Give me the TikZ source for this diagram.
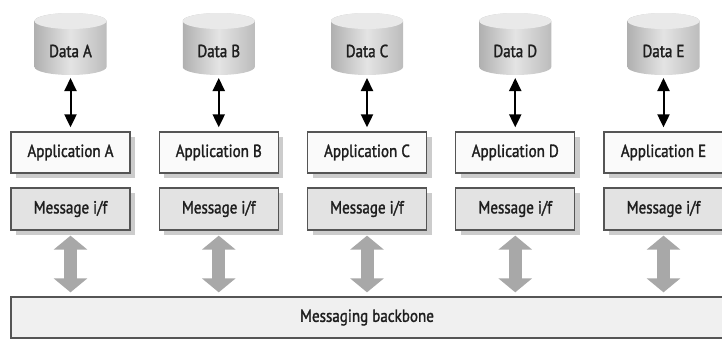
\documentclass[tikz,border=0pt]{standalone}
\usepackage{fontspec}
\setmainfont[FakeStretch=0.86,FakeBold=1.6]{PT Sans}
\usetikzlibrary{arrows.meta,shadows}
\definecolor{cylside}{HTML}{B0B0B0}
\definecolor{cylmid}{HTML}{E4E4E4}
\definecolor{cyltop}{HTML}{E9E9E9}
\definecolor{boxline}{HTML}{555555}
\definecolor{appfill}{HTML}{FAFAFA}
\definecolor{msgfill}{HTML}{E3E3E3}
\definecolor{bbfill}{HTML}{F0F0F0}
\definecolor{garrow}{HTML}{A8A8A8}
\definecolor{txt}{HTML}{1E1E1E}
\tikzset{
  lbl/.style={font=\fontsize{17.5}{19}\selectfont, text=txt},
  datanode/.style={lbl, minimum width=72pt, minimum height=46pt, inner sep=0pt},
  boxbase/.style={lbl, draw=boxline, line width=1.3pt, minimum width=119pt, inner sep=0pt,
     drop shadow={shadow xshift=5pt, shadow yshift=-5pt, fill=black, opacity=0.2}},
  appbox/.style={boxbase, fill=appfill, minimum height=41pt},
  msgbox/.style={boxbase, fill=msgfill, minimum height=42pt},
  backbone/.style={lbl, draw=boxline, line width=1.3pt, fill=bbfill, minimum width=712pt, minimum height=41pt, inner sep=0pt},
  blackarrow/.style={line width=2pt, black, {Triangle[width=12pt,length=13pt]}-{Triangle[width=12pt,length=13pt]}, shorten <=3pt, shorten >=4pt},
  grayarrow/.style={line width=13pt, garrow, {Triangle[width=33pt,length=14pt]}-{Triangle[width=33pt,length=14pt]}, shorten <=5pt, shorten >=4pt}
}
\begin{document}
\begin{tikzpicture}[x=1pt,y=1pt]
\useasboundingbox (0,0) rectangle (722,-340);
\foreach \i/\l in {0/A,1/B,2/C,3/D,4/E} {
  \pgfmathsetmacro\cx{70.5+148.25*\i}
  \shade[left color=cylside, right color=cylside!85!white, middle color=cylmid]
    (\cx-36,-21) -- (\cx-36,-67)
    arc[start angle=180, end angle=360, x radius=36, y radius=8]
    -- (\cx+36,-21)
    arc[start angle=0, end angle=180, x radius=36, y radius=8] -- cycle;
  \fill[cyltop] (\cx,-21) ellipse[x radius=36, y radius=8];
  \node[datanode] (d\l) at (\cx,-51) {Data \l};
  \node[appbox] (a\l) at (\cx,-152.5) {Application \l};
  \node[msgbox] (m\l) at (\cx,-209) {Message i/f};
  \draw[blackarrow] (d\l.south |- 0,-75) -- (a\l);
}
\node[backbone] (bb) at (367,-317.5) {Messaging backbone};
\foreach \l in {A,B,C,D,E} {
  \draw[grayarrow] (m\l) -- (m\l |- bb.north);
}
\end{tikzpicture}
\end{document}
